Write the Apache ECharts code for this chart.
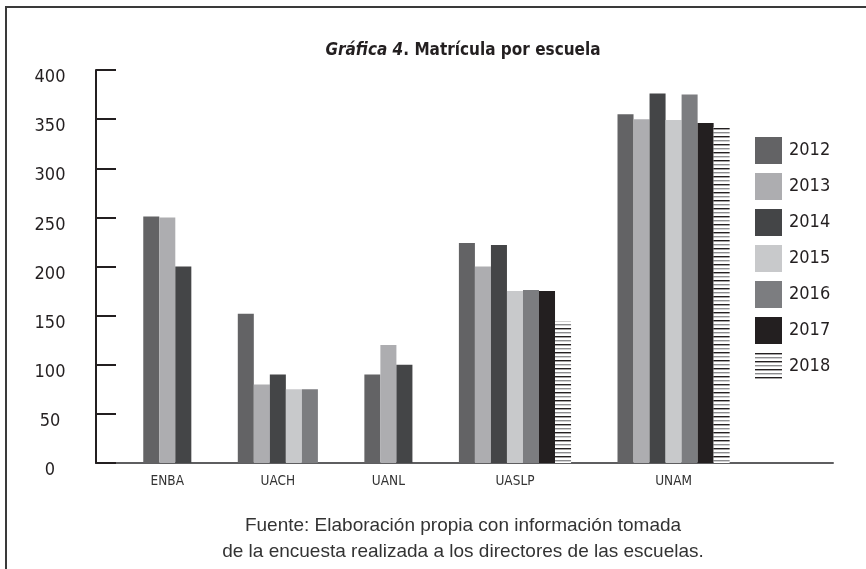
<!DOCTYPE html>
<html>
<head>
<meta charset="utf-8">
<script src="https://cdn.jsdelivr.net/npm/echarts@6/dist/echarts.min.js"></script>
<style>
  body { margin: 0; background: #fff; }
  #chart { position: absolute; left: 0; top: 0; width: 866px; height: 569px; }
  /* marco de la figura: solo arriba y a la izquierda */
  #marco { position: absolute; left: 5px; top: 6px; width: 861px; height: 563px;
           border-top: 2px solid #3a3a3a; border-left: 2px solid #3a3a3a; pointer-events: none; }
</style>
</head>
<body>
<div id="chart"></div>
<div id="marco"></div>
<script>
// datos
const escuelas = ['ENBA', 'UACH', 'UANL', 'UASLP', 'UNAM'];
const anios = ['2012', '2013', '2014', '2015', '2016', '2017', '2018'];
const m2012 = [251, 152, 90, 224, 355];
const m2013 = [250, 80, 120, 200, 350];
const m2014 = [200, 90, 100, 222, 376];
const m2015 = [null, 75, null, 175, 349];
const m2016 = [null, 75, null, 176, 375];
const m2017 = [null, null, null, 175, 346];
const m2018 = [null, null, null, 144, 342];
const matricula = [m2012, m2013, m2014, m2015, m2016, m2017, m2018];
const yTicks = [0, 50, 100, 150, 200, 250, 300, 350, 400];

const ANGOSTA = "'Liberation Sans Narrow', 'DejaVu Sans Condensed', 'Liberation Sans', sans-serif";
const NORMAL = "'Liberation Sans', Arial, sans-serif";
const TEXTO = '#231f20';
const CENTRO_TEXTO = 458; // la figura original está recortada a la derecha

// rayado horizontal para 2018
const rayas = document.createElement('canvas');
rayas.width = 8;
rayas.height = 8;
const rc = rayas.getContext('2d');
rc.fillStyle = '#ffffff';
rc.fillRect(0, 0, 8, 8);
rc.fillStyle = '#231f20';
rc.fillRect(0, 0, 8, 1.4);
rc.fillStyle = '#8c8c8e';
rc.fillRect(0, 4, 8, 1.4);

const colores = ['#636365', '#adadb0', '#444547', '#c8c9cb', '#7c7d80', '#231f20',
    { image: rayas, repeat: 'repeat' }];

// las barras de cada escuela van pegadas; cada barra ocupa una unidad del eje x
const margenIzq = 2.95;
const separacion = 2.9;
const posicion = []; // posicion[anio][escuela] = centro de la barra
const centros = [];
let cursor = margenIzq;
escuelas.forEach((e, i) => {
    let k = 0;
    matricula.forEach((serie, j) => {
        posicion[j] = posicion[j] || [];
        if (serie[i] != null) {
            posicion[j][i] = cursor + k + 0.5;
            k++;
        }
    });
    centros.push(cursor + k / 2);
    cursor += k + separacion;
});

const series = anios.map((anio, j) => ({
    name: anio,
    type: 'custom',
    itemStyle: { color: colores[j] },
    encode: { x: 0, y: 1 },
    data: matricula[j].map((v, i) => (v == null ? null : [posicion[j][i], v])).filter(d => d),
    renderItem: (params, api) => {
        const x = api.value(0);
        const p0 = api.coord([x - 0.5, api.value(1)]);
        const p1 = api.coord([x + 0.5, 0]);
        return {
            type: 'rect',
            shape: { x: p0[0], y: p0[1], width: p1[0] - p0[0], height: p1[1] - p0[1] },
            style: api.style()
        };
    }
}));

const chart = echarts.init(document.getElementById('chart'));
chart.setOption({
    animation: false,
    textStyle: { fontFamily: ANGOSTA },
    title: [
        {
            left: CENTRO_TEXTO,
            textAlign: 'center',
            top: 37,
            text: '{i|Gráfica 4}{n|. Matrícula por escuela}',
            textStyle: {
                rich: {
                    i: { fontFamily: ANGOSTA, fontSize: 17, fontStyle: 'italic', fontWeight: 'bold', color: TEXTO },
                    n: { fontFamily: ANGOSTA, fontSize: 17, fontWeight: 'bold', color: TEXTO }
                }
            }
        },
        {
            left: CENTRO_TEXTO,
            textAlign: 'center',
            top: 508,
            text: 'Fuente: Elaboración propia con información tomada\nde la encuesta realizada a los directores de las escuelas.',
            textStyle: { fontFamily: NORMAL, fontSize: 19, fontWeight: 'normal', color: '#333', lineHeight: 26, align: 'center' }
        }
    ],
    legend: {
        orient: 'vertical',
        left: 755,
        top: 137,
        padding: 0,
        itemWidth: 27,
        itemHeight: 27,
        itemGap: 9,
        icon: 'rect',
        data: anios,
        textStyle: { fontFamily: ANGOSTA, fontSize: 18, color: TEXTO, padding: [0, 0, 0, 2] }
    },
    grid: { left: 96, right: 33, top: 70, bottom: 106 },
    xAxis: {
        type: 'value',
        min: 0,
        max: 46,
        axisLine: { show: true, lineStyle: { color: '#5e5e60', width: 2 } },
        axisTick: { show: false },
        splitLine: { show: false },
        axisLabel: {
            customValues: centros,
            formatter: v => escuelas[centros.indexOf(v)] || '',
            fontFamily: ANGOSTA,
            fontSize: 13.5,
            color: '#333',
            margin: 11
        }
    },
    yAxis: {
        type: 'value',
        min: yTicks[0],
        max: yTicks[yTicks.length - 1],
        interval: 50,
        z: 3,
        axisLine: { show: true, lineStyle: { color: '#231f20', width: 2 } },
        axisTick: { show: true, inside: true, length: 20, lineStyle: { color: '#231f20', width: 2 } },
        splitLine: { show: false },
        axisLabel: {
            align: 'center',
            verticalAlign: 'top',
            lineHeight: 15,
            margin: 46,
            fontFamily: ANGOSTA,
            fontSize: 18,
            color: TEXTO
        }
    },
    series: series
});
</script>
</body>
</html>
